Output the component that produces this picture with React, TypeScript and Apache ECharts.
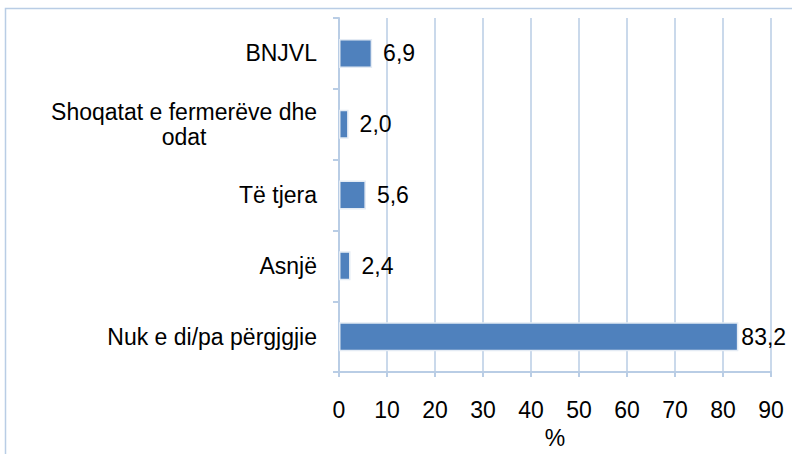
import React, { useEffect, useRef } from "react";
import * as echarts from "echarts";

const categories = [
  "BNJVL",
  "Shoqatat e fermerëve dhe\nodat",
  "Të tjera",
  "Asnjë",
  "Nuk e di/pa përgjgjie",
];
const values = [6.9, 2.0, 5.6, 2.4, 83.2];
const axisMin = 0;
const axisMax = 90;
const axisStep = 10;
const axisName = "%";

const FONT = "'Liberation Sans', Arial, sans-serif";
const LINE = "#b9cde5";

export default function App() {
  const ref = useRef<HTMLDivElement>(null);
  useEffect(() => {
    if (!ref.current) return;
    const chart = echarts.init(ref.current, null, { renderer: "svg" });
    const seriesData = values.map((v) =>
      v > axisMax - 10 ? { value: v, label: { distance: 3 } } : { value: v }
    );
    chart.setOption({
      animation: false,
      backgroundColor: "#ffffff",
      textStyle: { fontFamily: FONT },
      grid: { left: 339, right: 21, top: 18, bottom: 66, containLabel: false },
      graphic: [
        {
          type: "rect",
          shape: { x: 5.5, y: 8.5, width: 1000, height: 1000 },
          style: { fill: "none", stroke: LINE, lineWidth: 1.5 },
          silent: true,
        },
      ],
      xAxis: {
        type: "value",
        min: axisMin,
        max: axisMax,
        interval: axisStep,
        name: axisName,
        nameLocation: "middle",
        nameGap: 46,
        nameTextStyle: { color: "#000", fontSize: 23, fontFamily: FONT },
        axisLine: { show: true, lineStyle: { color: LINE, width: 2 } },
        axisTick: { show: true, length: 5, lineStyle: { color: LINE, width: 2 } },
        splitLine: { show: true, lineStyle: { color: LINE, width: 1.5 } },
        axisLabel: { color: "#000", fontSize: 23, fontFamily: FONT, margin: 26 },
      },
      yAxis: {
        type: "category",
        data: categories,
        inverse: true,
        axisLine: { show: true, lineStyle: { color: LINE, width: 2 } },
        axisTick: { show: true, length: 6, lineStyle: { color: LINE, width: 2 } },
        splitLine: { show: false },
        axisLabel: {
          color: "#000",
          fontSize: 23,
          fontFamily: FONT,
          margin: 22,
          lineHeight: 25,
          formatter: (v: string) =>
            v.includes("\n")
              ? v
                  .split("\n")
                  .map((l) => `{c|${l}}`)
                  .join("\n")
              : v,
          rich: {
            c: {
              align: "center",
              fontSize: 23,
              lineHeight: 25,
              fontFamily: FONT,
              color: "#000",
            },
          },
        },
      },
      series: [
        {
          type: "bar",
          data: seriesData,
          barWidth: 29,
          itemStyle: {
            color: "#4f81bd",
            borderColor: "#e4ebf4",
            borderWidth: 1.5,
          },
          label: {
            show: true,
            position: "right",
            distance: 11,
            color: "#000",
            fontSize: 23,
            fontFamily: FONT,
            formatter: (p: any) => Number(p.value).toFixed(1).replace(".", ","),
          },
        },
      ],
    });
    return () => chart.dispose();
  }, []);
  return (
    <div
      ref={ref}
      style={{ position: "fixed", left: 0, top: 0, width: 792, height: 454 }}
    />
  );
}
